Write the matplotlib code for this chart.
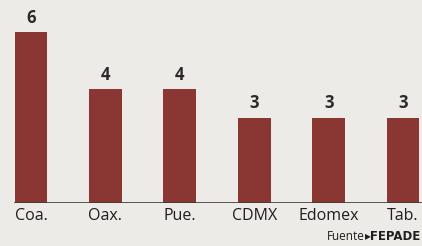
import matplotlib.pyplot as plt

estados = ['Coa.', 'Oax.', 'Pue.', 'CDMX', 'Edomex', 'Tab.']
casos = [6, 4, 4, 3, 3, 3]

bg = '#ecebe8'
fig = plt.figure(figsize=(4.22, 2.46), dpi=100, facecolor=bg)
ax = fig.add_axes([0, 43 / 246, 1, 203 / 246])
ax.set_facecolor(bg)

pos = list(range(len(estados)))
ax.bar(pos, casos, width=0.44, color='#8a3733', zorder=2)
ax.set_xlim(-0.417, 5.255)
ax.set_ylim(0, 203 / 28.5)
ax.axhline(0, xmin=15 / 422, xmax=1, color='#3a3a3a', lw=1.2, zorder=3)

for x, v in zip(pos, casos):
    ax.text(x, v + 0.18, str(v), ha='center', va='bottom', fontsize=12,
            fontweight='bold', color='#2a2a2a', family='Open Sans')

for x, name in zip(pos, estados):
    ax.text(x, -0.45, name, ha='center', va='center', fontsize=11.5,
            color='#1e1e1e', family='Open Sans')

ax.axis('off')

# fuente, abajo a la derecha
t = fig.text(421 / 422, 1 - 236 / 246, '\u25b8FEPADE', ha='right', va='center',
             fontsize=8.5, fontweight='bold', color='#1e1e1e', family='DejaVu Sans')
fig.canvas.draw()
bb = t.get_window_extent(fig.canvas.get_renderer())
fig.text(bb.x0 / fig.bbox.width, 1 - 236 / 246, 'Fuente', ha='right', va='center',
         fontsize=8.5, color='#1e1e1e', family='Open Sans')

fig.savefig('out.png', dpi=100, facecolor=bg)
